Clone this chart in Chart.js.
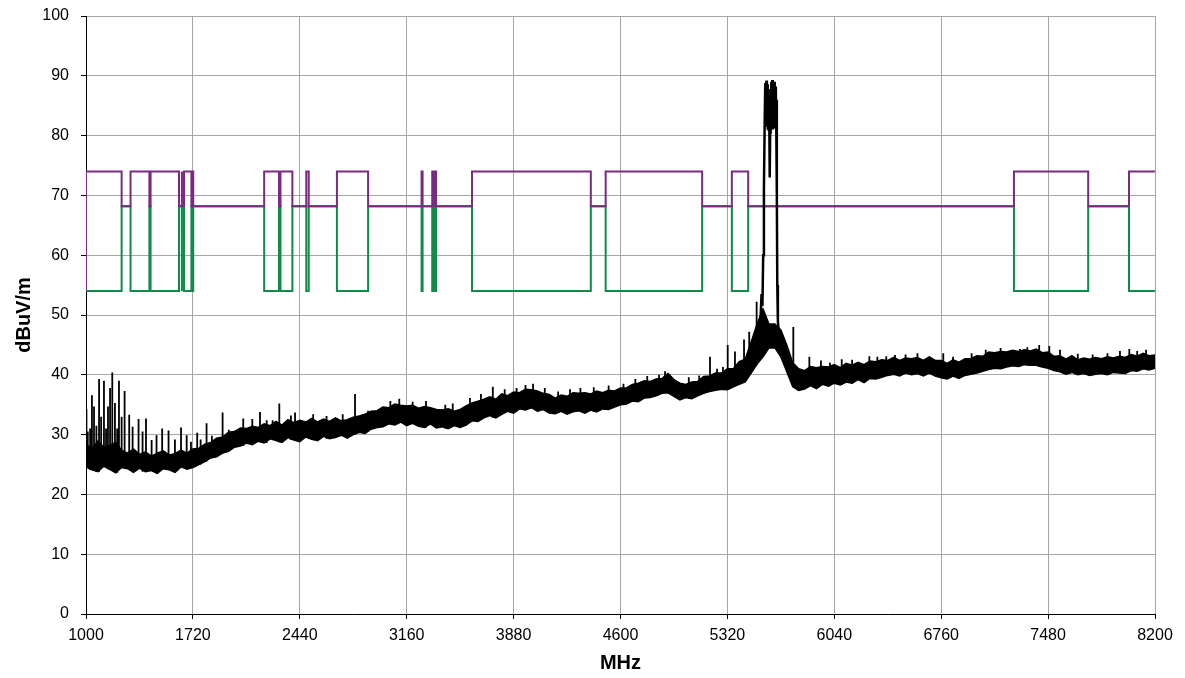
<!DOCTYPE html>
<html>
<head>
<meta charset="utf-8">
<script src="https://cdn.jsdelivr.net/npm/chart.js@4.4.1/dist/chart.umd.min.js"></script>
<style>
  html, body { margin: 0; padding: 0; background: #fff; }
  canvas { display: block; }
</style>
</head>
<body>
<canvas id="chartSpectrum" width="1185" height="678"></canvas>
<script>
// x axis ticks (MHz)
const xTicks = [1000, 1720, 2440, 3160, 3880, 4600, 5320, 6040, 6760, 7480, 8200];

// noise floor, read every 40 MHz from 1000 to 8200: lower and upper edge of the trace (dBuV/m)
const traceStart = 1000;
const traceStep = 40;
const traceLow = [
  24.6, 24.1, 23.8, 24.7, 24.2, 23.6, 24.5, 24.3, 23.7, 24.4,
  23.8, 24.0, 23.5, 24.3, 24.1, 23.7, 24.6, 24.2, 24.5, 25.0,
  25.5, 26.1, 26.3, 26.9, 27.2, 27.9, 28.1, 28.6, 28.3, 28.9,
  28.6, 29.3, 29.0, 28.7, 29.5, 29.1, 28.8, 29.6, 29.2, 29.0,
  29.7, 29.3, 29.5, 29.9, 29.4, 30.0, 30.4, 30.2, 30.9, 31.2,
  31.3, 31.8, 31.6, 32.1, 31.5, 31.9, 31.4, 31.2, 31.8, 31.1,
  31.3, 31.0, 31.5, 31.2, 31.6, 32.3, 32.2, 32.8, 33.2, 32.8,
  33.4, 33.9, 33.6, 34.3, 34.1, 34.5, 33.9, 34.2, 33.6, 33.5,
  33.9, 33.4, 33.8, 34.0, 33.6, 34.1, 33.8, 34.3, 34.2, 34.6,
  35.0, 35.1, 35.6, 35.5, 36.1, 36.2, 36.5, 36.9, 37.0, 36.4,
  35.8, 36.2, 36.0, 36.5, 36.9, 37.2, 37.4, 37.6, 37.5, 38.0,
  38.4, 38.8, 40.3, 41.8, 43.0, 44.5, 44.5, 43.0, 40.5, 38.0,
  37.4, 37.6, 38.2, 37.7, 38.4, 38.1, 38.6, 38.3, 38.8, 38.6,
  39.2, 38.7, 39.4, 39.3, 39.6, 39.9, 40.1, 39.8, 40.3, 40.0,
  40.2, 39.8, 40.3, 39.8, 39.5, 39.3, 39.8, 39.4, 39.9, 40.1,
  40.3, 40.6, 40.9, 41.1, 41.0, 41.3, 41.5, 41.4, 41.7, 41.6,
  41.6, 41.3, 41.1, 40.7, 40.5, 40.1, 40.4, 40.0, 40.2, 39.9,
  40.1, 40.2, 40.0, 40.4, 40.3, 40.2, 40.7, 40.6, 41.0, 40.8,
  41.1
];
const traceHigh = [
  28.4, 27.6, 28.9, 27.9, 28.2, 28.7, 27.4, 26.9, 27.6, 26.7,
  27.1, 26.4, 26.9, 27.3, 26.6, 26.8, 27.4, 26.9, 27.6, 27.7,
  28.4, 28.7, 29.4, 29.6, 30.4, 30.5, 31.1, 31.0, 31.4, 31.2,
  31.8, 31.5, 32.2, 31.6, 32.5, 32.0, 32.4, 32.1, 32.7, 32.1,
  32.6, 32.2, 32.8, 32.3, 32.5, 32.9, 33.1, 33.4, 33.9, 34.0,
  34.6, 34.5, 35.1, 34.9, 34.8, 34.9, 34.4, 34.7, 34.5, 34.2,
  34.1, 34.3, 33.9, 34.2, 34.8, 35.3, 35.6, 35.9, 36.3, 35.9,
  36.8, 36.5, 37.1, 37.0, 37.6, 37.5, 37.3, 36.9, 36.7, 36.1,
  36.6, 36.4, 37.0, 36.9, 37.0, 36.8, 37.3, 37.0, 37.4, 37.3,
  37.8, 37.8, 38.4, 38.6, 39.0, 38.9, 39.3, 39.4, 40.2, 39.2,
  38.6, 38.4, 38.8, 38.9, 39.7, 39.8, 40.3, 40.3, 41.0, 41.0,
  42.2, 42.6, 45.5, 48.5, 51.0, 48.5, 48.5, 47.5, 45.0, 42.0,
  41.0, 40.7, 41.4, 41.2, 41.4, 41.3, 41.7, 41.2, 41.9, 41.6,
  42.1, 41.7, 42.3, 42.2, 42.5, 42.4, 42.9, 42.4, 42.8, 42.7,
  42.9, 42.4, 43.0, 42.4, 42.4, 41.9, 42.5, 42.1, 42.7, 42.7,
  43.2, 43.1, 43.8, 43.7, 43.9, 43.8, 44.1, 43.9, 44.2, 44.0,
  44.3, 43.7, 43.8, 43.1, 43.2, 42.6, 43.2, 42.5, 42.8, 42.6,
  42.9, 42.7, 43.0, 42.8, 43.1, 42.9, 43.4, 43.1, 43.6, 43.2,
  43.3
];

// narrow spikes above the noise floor
const spikeFreq = [
  1003, 1012, 1028, 1040, 1054, 1070, 1088, 1102, 1121, 1135,
  1148, 1162, 1177, 1195, 1210, 1222, 1240, 1260, 1291, 1314,
  1354, 1381, 1404, 1442, 1475, 1513, 1556, 1599, 1640, 1678,
  1707, 1749, 1772, 1812, 1848, 1920, 1962, 2059, 2120, 2172,
  2217, 2257, 2302, 2380, 2408, 2530, 2620, 2729, 2812, 2900,
  3050, 3110, 3200, 3290, 3420, 3470, 3586, 3660, 3740, 3820,
  3900, 3960, 4011, 4090, 4180, 4260, 4330, 4420, 4520, 4620,
  4700, 4780, 4860, 4900, 5060, 5130, 5203, 5250, 5290, 5322,
  5371, 5432, 5467, 5517, 5764, 5872, 5950, 6011, 6090, 6160,
  6276, 6330, 6390, 6449, 6520, 6600, 6680, 6774, 6840, 6965,
  7060, 7160, 7290, 7340, 7420, 7488, 7560, 7680, 7780, 7880,
  7964, 8027, 8080, 8140
];
const spikeTop = [
  34.3, 30.5, 31.0, 36.6, 34.7, 31.5, 39.3, 33.0, 39.0, 31.0,
  34.7, 37.8, 40.4, 35.3, 31.0, 39.0, 33.0, 37.3, 33.3, 31.3,
  32.6, 30.5, 32.7, 29.1, 29.9, 31.0, 30.7, 29.2, 31.2, 29.9,
  28.8, 30.3, 29.2, 31.9, 29.8, 33.7, 30.8, 32.7, 32.6, 33.8,
  32.4, 32.4, 35.2, 33.2, 33.7, 33.4, 33.1, 33.4, 36.8, 34.0,
  35.6, 36.0, 35.5, 35.6, 35.0, 35.2, 36.1, 36.8, 38.0, 37.6,
  37.8, 38.3, 38.5, 37.8, 37.2, 37.6, 37.8, 37.9, 38.2, 38.5,
  39.3, 39.8, 40.0, 40.6, 39.6, 39.9, 43.0, 41.0, 41.3, 45.0,
  43.9, 45.9, 47.2, 52.2, 48.0, 43.0, 42.4, 42.0, 42.6, 42.5,
  43.1, 43.0, 43.1, 43.3, 43.4, 43.6, 43.0, 43.6, 43.0, 43.6,
  44.2, 44.5, 44.3, 44.6, 45.0, 44.8, 44.2, 43.5, 43.4, 43.6,
  44.0, 44.3, 44.0, 44.2
];

// carrier around 5.6 GHz
const peakFreq = [
  5540, 5550, 5556, 5561, 5566, 5571, 5575, 5579, 5583, 5586,
  5589, 5592, 5595, 5598, 5601, 5604, 5606, 5608, 5610, 5613,
  5616, 5619, 5622, 5625, 5628, 5631, 5634, 5637, 5640, 5643,
  5646, 5649, 5652, 5654, 5656, 5660, 5668
];
const peakLevel = [
  47.5, 53.5, 51.5, 60.0, 71.0, 82.0, 88.8, 83.0, 89.2, 81.5,
  88.6, 81.0, 87.8, 80.8, 86.5, 80.5, 73.0, 80.5, 87.5, 81.2,
  89.0, 81.6, 89.3, 81.0, 88.4, 81.5, 88.8, 81.2, 89.0, 81.8,
  88.2, 82.0, 86.0, 70.0, 55.0, 49.0, 46.5
];

// limit lines
const restrictedBands = [
  [1000, 1240], [1300, 1427], [1435, 1626.5], [1645.5, 1646.5], [1660, 1710],
  [1718.8, 1722.2], [2200, 2300], [2310, 2390], [2483.5, 2500], [2690, 2900],
  [3260, 3267], [3332, 3339], [3345.8, 3358], [3600, 4400], [4500, 5150],
  [5350, 5460], [7250, 7750], [8025, 8200]
];
const limitGeneral = 68.2;
const limitPeak = 74;
const limitAverage = 54;

const FONT = "'Liberation Sans', Arial, sans-serif";

function traceData(values) {
  return values.map((v, i) => ({x: traceStart + i * traceStep, y: v}));
}

function spikeData() {
  const pts = [];
  spikeFreq.forEach((f, i) => {
    const base = traceLow[Math.round((f - traceStart) / traceStep)];
    pts.push({x: f, y: base}, {x: f, y: spikeTop[i]}, {x: f, y: null});
  });
  return pts;
}

function limitData(level) {
  const pts = [];
  let pos = xTicks[0];
  restrictedBands.forEach(([a, b]) => {
    if (a > pos) pts.push({x: pos, y: limitGeneral}, {x: a, y: limitGeneral});
    pts.push({x: a, y: level}, {x: b, y: level});
    pos = b;
  });
  const end = xTicks[xTicks.length - 1];
  if (pos < end) pts.push({x: pos, y: limitGeneral}, {x: end, y: limitGeneral});
  return pts;
}

const black = '#000000';
const purple = '#7a2a80';
const green = '#118a4a';

// the peak limit line starts from the average level at the left edge
const peakLine = limitData(limitPeak);
peakLine.unshift({x: xTicks[0], y: limitAverage});

const datasets = [
  {
    data: traceData(traceLow),
    borderColor: black, borderWidth: 1.5, pointRadius: 0, fill: false, order: 0
  },
  {
    data: traceData(traceHigh),
    borderColor: black, backgroundColor: black, borderWidth: 1.5, pointRadius: 0, fill: '-1', order: 0
  },
  {
    data: spikeData(),
    borderColor: black, borderWidth: 1.8, pointRadius: 0, fill: false, spanGaps: false, order: 0
  },
  {
    data: peakFreq.map((f, i) => ({x: f, y: peakLevel[i]})),
    borderColor: black, borderWidth: 2.5, pointRadius: 0, fill: false, order: 0
  },
  {
    data: peakLine,
    borderColor: purple, borderWidth: 2, pointRadius: 0, fill: false, order: 1
  },
  {
    data: limitData(limitAverage),
    borderColor: green, borderWidth: 2, pointRadius: 0, fill: false, order: 2
  }
];

const scales = {
  x: {
    type: 'linear',
    min: xTicks[0],
    max: xTicks[xTicks.length - 1],
    afterBuildTicks(s) { s.ticks = xTicks.map(v => ({value: v})); },
    afterFit(s) { s.height = 64; s.paddingLeft = 0; s.paddingRight = 0; },
    grid: { color: '#a6a6a6', lineWidth: 1, tickColor: black, tickLength: 5 },
    border: { color: black, width: 1 },
    ticks: {
      color: black, padding: 7, maxRotation: 0, autoSkip: false,
      font: { family: FONT, size: 16 },
      callback: v => String(v)
    },
    title: {
      display: true, text: 'MHz', color: black,
      font: { family: FONT, size: 20, weight: 'bold' },
      padding: { top: 0, bottom: 3 }
    }
  },
  y: {
    type: 'linear',
    min: 0,
    max: 100,
    afterFit(s) { s.width = 86; s.paddingTop = 0; s.paddingBottom = 0; },
    grid: { color: '#a6a6a6', lineWidth: 1, tickColor: black, tickLength: 5 },
    border: { color: black, width: 1 },
    ticks: {
      stepSize: 10, color: black, padding: 12,
      font: { family: FONT, size: 16 }
    },
    title: {
      display: true, text: 'dBuV/m', color: black,
      font: { family: FONT, size: 20, weight: 'bold' },
      padding: { top: 12, bottom: 0 }
    }
  }
};

new Chart(document.getElementById('chartSpectrum').getContext('2d'), {
  type: 'line',
  data: { datasets: datasets },
  options: {
    responsive: false,
    animation: false,
    events: [],
    layout: { padding: { top: 16, right: 30, left: 0, bottom: 0 } },
    plugins: { legend: { display: false }, tooltip: { enabled: false } },
    scales: scales
  }
});
</script>
</body>
</html>
